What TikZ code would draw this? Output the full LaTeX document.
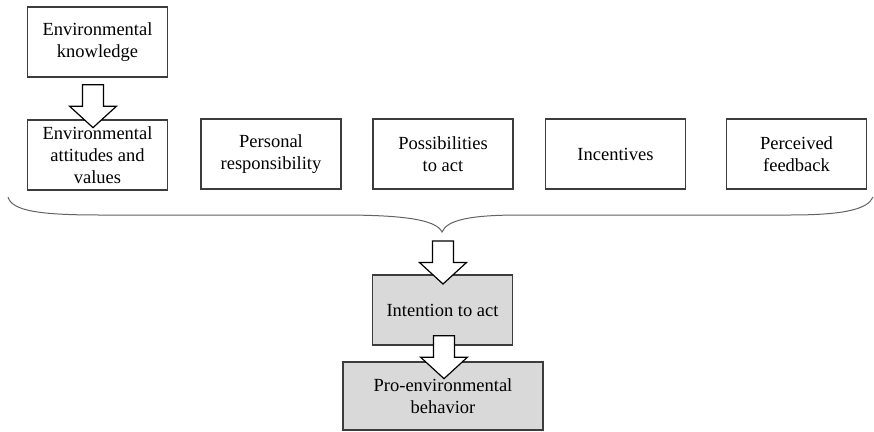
\documentclass[tikz,border=0pt]{standalone}
\usepackage{fontspec}
\setmainfont{Liberation Serif}
\usetikzlibrary{calc}
\definecolor{boxgray}{RGB}{217,217,217}
\definecolor{linegray}{RGB}{60,60,60}
% block arrow pointing down, #1 = top point of the shaft
\newcommand{\fatarrow}[1]{%
  \draw[fat arrow] #1 ++(-10.5,0) -- ++(0,21.5) -- ++(-13,0) -- ++(23.5,21.5)
    -- ++(23.5,-21.5) -- ++(-13,0) -- ++(0,-21.5) -- cycle;}
\begin{document}
\begin{tikzpicture}[x=1pt,y=-1pt,
  box/.style={draw=linegray,line width=1.3pt,fill=white,minimum width=140pt,minimum height=70pt,
    align=center,inner sep=2pt,font=\fontsize{18.5}{22}\selectfont},
  graybox/.style={box,fill=boxgray},
  fat arrow/.style={draw=black,line width=1.2pt,fill=white,line join=miter},
  brace line/.style={draw=linegray!80,line width=1pt}]
\useasboundingbox (0,0) rectangle (874,431);
\node [box] (kn) at (97.5,42) {Environmental\\knowledge};
\node [box] (att) at (97.5,155) {Environmental\\attitudes and\\values};
\node [box] (resp) at (271,154) {Personal\\responsibility};
\node [box] (poss) at (443,154) {Possibilities\\to act};
\node [box] (inc) at (615.5,154) {Incentives};
\node [box] (feed) at (796.5,154) {Perceived\\feedback};
\node [graybox] (int) at (442.5,310) {Intention to act};
\node [graybox,minimum width=200pt,minimum height=68pt] (beh) at (443,396) {Pro-environmental\\behavior};
% curly brace under the factors
\coordinate (tip) at (442,232);
\draw [brace line] (8,197) .. controls (12,211) and (40,215) .. (100,215) -- (340,215)
  .. controls (400,215) and (436,219) .. (tip)
  .. controls (447,220) and (470,215) .. (520,215) -- (790,215)
  .. controls (845,215) and (868,209) .. (873,197);
\fatarrow{($(kn.south)+(-4.5,7)$)}
\fatarrow{($(tip)+(1,9)$)}
\fatarrow{($(int.south)+(1.5,-10)$)}
\end{tikzpicture}
\end{document}
